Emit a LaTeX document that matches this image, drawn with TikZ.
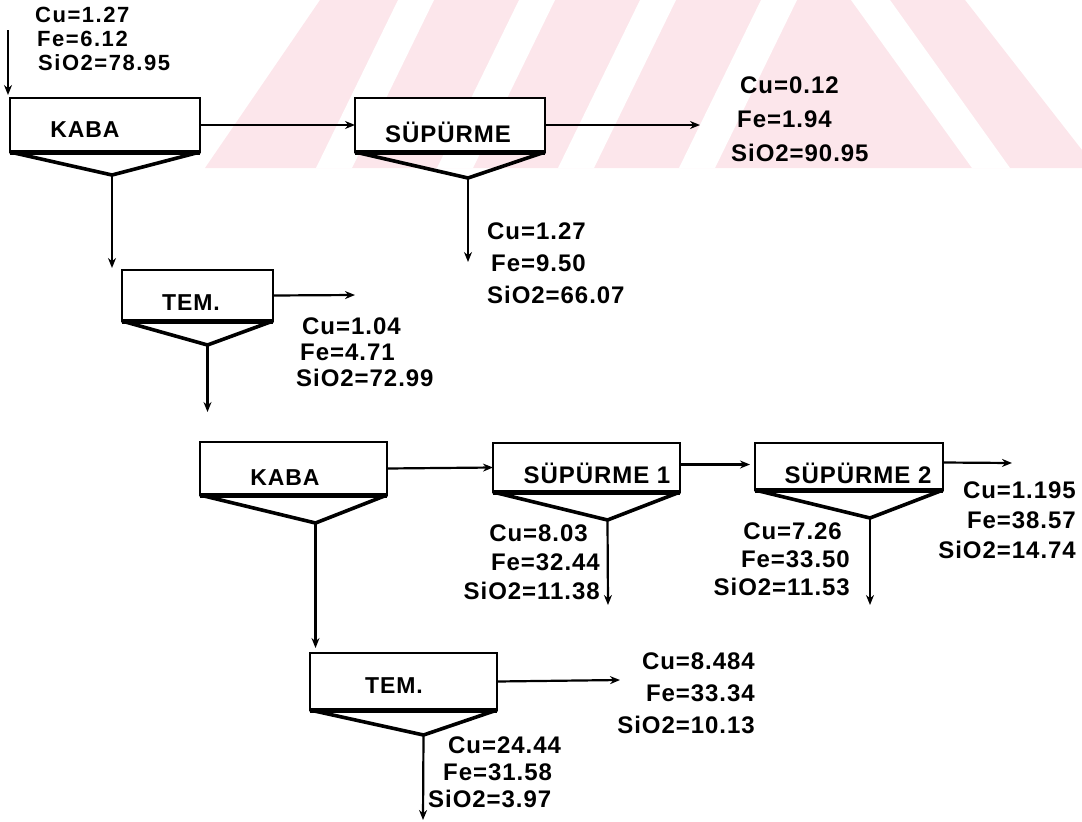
\documentclass[tikz,border=0pt]{standalone}
\usepackage{fontspec}
\setmainfont{Liberation Sans}
\newfontfamily\dfont[LetterSpace=4.0]{Liberation Sans}
\newfontfamily\dfontw[LetterSpace=7.0]{Liberation Sans}
\usetikzlibrary{arrows.meta,calc}
\definecolor{wmpink}{RGB}{252,230,235}
\begin{document}
\begin{tikzpicture}[x=1pt,y=-1pt,
  box/.style={draw=black, line width=2pt, fill=white, inner sep=0pt, outer sep=0pt},
  lbl/.style={font=\dfont\bfseries\fontsize{23}{25}\selectfont, inner sep=0pt, anchor=base},
  lblw/.style={font=\dfont\bfseries\fontsize{24}{26}\selectfont, inner sep=0pt, anchor=base},
  dat/.style={font=\dfont\bfseries\fontsize{24}{#1}\selectfont, inner sep=0pt},
  flow/.style={line width=2.2pt, -{Stealth[length=10pt,width=8pt]}},
  tri/.style={line width=3.6pt, line join=round},
  heavy/.style={line width=5pt}
]
\useasboundingbox (0,0) rectangle (1082,822);
% faint watermark band
\begin{scope}
\clip (0,0) rectangle (1082,168);
\fill[wmpink] (205,168) -- (320,0) -- (965,0) -- (1082,150) -- (1082,168) -- cycle;
\foreach \b in {316,437,558,679}{
  \fill[white] (\b,168) -- (\b+82,0) -- (\b+118,0) -- (\b+36,168) -- cycle;
}
\fill[white] (851,0) -- (890,0) -- (1010,168) -- (972,168) -- cycle;
\end{scope}

% boxes
\node[box, minimum width=190pt, minimum height=54pt] (k1) at (105,125) {};
\node[box, minimum width=190pt, minimum height=54pt] (s0) at (450,125) {};
\node[box, minimum width=151pt, minimum height=51pt] (t1) at (197.5,295.5) {};
\node[box, minimum width=187pt, minimum height=53pt] (k2) at (293.5,468.5) {};
\node[box, minimum width=187pt, minimum height=49pt] (s1) at (586.5,467.5) {};
\node[box, minimum width=188pt, minimum height=47pt] (s2) at (849,466.5) {};
\node[box, minimum width=187pt, minimum height=57pt] (t2) at (403.5,681.5) {};

% box labels
\node[lbl] (k1l) at (85,137) {KABA};
\node[lblw] (s0l) at (448,142) {SÜPÜRME};
\node[lbl] (t1l) at (191,310) {TEM.};
\node[lbl] (k2l) at (285,485) {KABA};
\node[lblw] (s1l) at (597,483) {SÜPÜRME 1};
\node[lblw] (s2l) at (858,483) {SÜPÜRME 2};
\node[lbl] (t2l) at (394,693) {TEM.};

% heavy bottom edges and discharge triangles
\foreach \n/\dx/\dy in {k1/7/23, s0/18/26, t1/10/24, k2/22/28, s1/21/28, s2/21/28, t2/20/25}{
  \draw[heavy] (\n.south west) -- (\n.south east);
  \draw[tri] (\n.south west) -- ($(\n.south)+(\dx,\dy)$) coordinate (\n a) -- (\n.south east);
}

% end points of free connectors
\coordinate (in0) at (8,30);
\coordinate (in1) at (8,95);
\coordinate (s0o) at (700,125);
\coordinate (t1o) at (355,295);
\coordinate (s2o) at (1012,463);
\coordinate (t2o) at (620,680);
\coordinate (s0d) at (468,262);
\coordinate (s1d) at (608,605);
\coordinate (s2d) at (870,605);
\coordinate (t2d) at (423,820);

% connectors
\draw[flow, line width=1.5pt] (in0) -- (in1);
\draw[flow] (k1.east) -- (s0.west);
\draw[flow] (s0.east) -- (s0o);
\draw[flow] (k1a) -- (k1a |- 0,268);
\draw[flow] (s0a) -- (s0d);
\draw[flow] (t1.east) -- (t1o);
\draw[flow] (t1a) -- (t1a |- 0,412);
\draw[flow] (k2.east) -- (s1.west);
\draw[flow] ($(s1.east)+(0,-3)$) -- ($(s2.west)+(-5,-2)$);
\draw[flow] ($(s2.east)+(0,-4)$) -- (s2o);
\draw[flow] (k2a) -- (k2a |- 0,648);
\draw[flow] (s1a) -- (s1d);
\draw[flow] (s2a) -- (s2d);
\draw[flow] (t2.east) -- (t2o);
\draw[flow] (t2a) -- (t2d);

% composition labels
\node[dat=24, align=left, anchor=north west, font=\dfontw\bfseries\fontsize{22}{24}\selectfont] (c0) at (35,7) {Cu=1.27\\\hspace*{2pt}Fe=6.12\\\hspace*{3pt}SiO2=78.95};
\node[dat=34, align=left, anchor=north west] (c1) at (731,77) {\hspace*{9pt}Cu=0.12\\\hspace*{6pt}Fe=1.94\\SiO2=90.95};
\node[dat=32, align=left, anchor=north west] (c2) at (487,223) {Cu=1.27\\\hspace*{4pt}Fe=9.50\\SiO2=66.07};
\node[dat=26, align=left, anchor=north west] (c3) at (296,318) {\hspace*{6pt}Cu=1.04\\\hspace*{4pt}Fe=4.71\\SiO2=72.99};
\node[dat=29, align=right, anchor=north east] (c4) at (600,525) {Cu=8.03\hspace*{12pt}\\Fe=32.44\hspace*{2pt}\\SiO2=11.38};
\node[dat=28, align=right, anchor=north east] (c5) at (850,523) {Cu=7.26\hspace*{8pt}\\Fe=33.50\hspace*{2pt}\\SiO2=11.53};
\node[dat=30, align=right, anchor=north east] (c6) at (1076,482) {Cu=1.195\\Fe=38.57\\SiO2=14.74};
\node[dat=32, align=right, anchor=north east] (c7) at (755,653) {Cu=8.484\\Fe=33.34\\SiO2=10.13};
\node[dat=27, align=left, anchor=north west] (c8) at (428,737) {\hspace*{20pt}Cu=24.44\\\hspace*{15pt}Fe=31.58\\SiO2=3.97};
\end{tikzpicture}
\end{document}
